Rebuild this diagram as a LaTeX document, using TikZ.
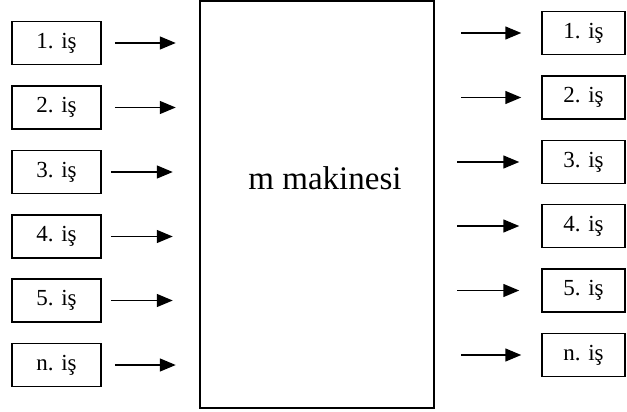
\documentclass[tikz,border=0pt]{standalone}
\usepackage{fontspec}
\setmainfont{Liberation Serif}
\usepackage{tikz}
\usetikzlibrary{positioning, arrows.meta}

\begin{document}
\begin{tikzpicture}[x=1pt, y=-1pt,
    isbox/.style={draw, line width=1.5pt, minimum width=89pt, minimum height=43pt, inner sep=0pt, font=\fontsize{23}{27}\selectfont},
    outbox/.style={isbox, minimum width=83pt},
    isarrow/.style={-{Triangle[length=16pt, width=13pt]}, line width=1.5pt}]
      \useasboundingbox (0, 0) rectangle (627, 412);

      % machine
      \node[draw, line width=1.5pt, minimum width=234pt, minimum height=407pt, inner sep=0pt] (mak) at (317, 204.5) {};
      \node[font=\fontsize{33}{39}\selectfont] (makname) at (325, 178) {m makinesi};

      % incoming jobs
      \node[isbox] (in1) at (56.5, 43) {1. iş};
      \draw[isarrow] ([xshift=13pt]in1.east) -- ([xshift=74pt]in1.east);

      \node[isbox] (in2) at (56.5, 107.5) {2. iş};
      \draw[isarrow] ([xshift=13pt]in2.east) -- ([xshift=74pt]in2.east);

      \node[isbox] (in3) at (56.5, 172) {3. iş};
      \draw[isarrow] ([xshift=9pt]in3.east) -- ([xshift=71pt]in3.east);

      \node[isbox] (in4) at (56.5, 236.5) {4. iş};
      \draw[isarrow] ([xshift=9pt]in4.east) -- ([xshift=71pt]in4.east);

      \node[isbox] (in5) at (56.5, 300.5) {5. iş};
      \draw[isarrow] ([xshift=9pt]in5.east) -- ([xshift=71pt]in5.east);

      \node[isbox] (inn) at (56.5, 365) {n. iş};
      \draw[isarrow] ([xshift=13pt]inn.east) -- ([xshift=74pt]inn.east);

      % finished jobs
      \node[outbox] (out1) at (583.5, 33) {1. iş};
      \draw[isarrow] ([xshift=-80pt]out1.west) -- ([xshift=-20pt]out1.west);

      \node[outbox] (out2) at (583.5, 97.5) {2. iş};
      \draw[isarrow] ([xshift=-80pt]out2.west) -- ([xshift=-20pt]out2.west);

      \node[outbox] (out3) at (583.5, 162) {3. iş};
      \draw[isarrow] ([xshift=-84pt]out3.west) -- ([xshift=-22pt]out3.west);

      \node[outbox] (out4) at (583.5, 226) {4. iş};
      \draw[isarrow] ([xshift=-84pt]out4.west) -- ([xshift=-22pt]out4.west);

      \node[outbox] (out5) at (583.5, 290.5) {5. iş};
      \draw[isarrow] ([xshift=-84pt]out5.west) -- ([xshift=-22pt]out5.west);

      \node[outbox] (outn) at (583.5, 355) {n. iş};
      \draw[isarrow] ([xshift=-80pt]outn.west) -- ([xshift=-20pt]outn.west);
    \end{tikzpicture}
\end{document}
